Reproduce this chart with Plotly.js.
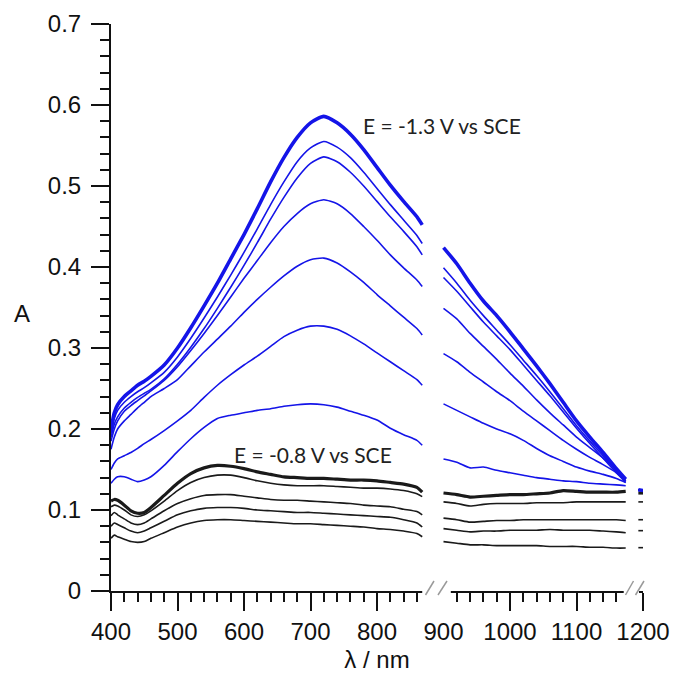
<!DOCTYPE html>
<html><head><meta charset="utf-8">
<script src="https://cdn.plot.ly/plotly-3.0.1.min.js"></script>
<style>html,body{margin:0;padding:0;background:#fff}#chart{width:675px;height:673px}</style>
</head><body><div id="chart"></div>
<script>
// Wavelength grids (nm) for the three detector segments
const wlVis  = [400,405,410,420,430,440,450,460,480,500,520,540,560,580,600,620,640,660,680,700,720,740,760,780,800,820,840,860,868];
const wlNir  = [900,920,940,960,980,1000,1020,1040,1060,1080,1100,1120,1140,1160,1174];
const wlTail = [1193,1200];

// Blue spectra (reduction towards E = -1.3 V vs SCE), absorbance
const blue1Vis = [0.200,0.220,0.230,0.240,0.247,0.254,0.259,0.265,0.279,0.300,0.325,0.352,0.380,0.410,0.440,0.472,0.505,0.535,0.560,0.578,0.586,0.578,0.564,0.545,0.523,0.501,0.481,0.462,0.452];
const blue2Vis = [0.195,0.213,0.223,0.233,0.240,0.246,0.251,0.257,0.270,0.289,0.312,0.337,0.363,0.390,0.418,0.447,0.477,0.505,0.530,0.547,0.555,0.548,0.535,0.517,0.497,0.477,0.458,0.439,0.429];
const blue3Vis = [0.190,0.206,0.215,0.226,0.233,0.239,0.244,0.249,0.262,0.280,0.301,0.324,0.349,0.375,0.402,0.430,0.459,0.486,0.510,0.528,0.536,0.530,0.517,0.500,0.481,0.462,0.444,0.425,0.415];
const blue4Vis = [0.185,0.200,0.210,0.222,0.229,0.235,0.241,0.247,0.260,0.277,0.297,0.318,0.340,0.363,0.386,0.408,0.430,0.450,0.466,0.478,0.483,0.478,0.466,0.450,0.433,0.415,0.399,0.384,0.376];
const blue5Vis = [0.175,0.190,0.200,0.210,0.218,0.226,0.233,0.240,0.250,0.261,0.278,0.295,0.311,0.327,0.344,0.360,0.375,0.389,0.401,0.409,0.411,0.405,0.394,0.381,0.366,0.352,0.338,0.324,0.316];
const blue6Vis = [0.150,0.158,0.163,0.167,0.171,0.176,0.182,0.187,0.198,0.210,0.223,0.239,0.254,0.267,0.279,0.290,0.302,0.314,0.322,0.327,0.327,0.323,0.315,0.305,0.294,0.283,0.272,0.261,0.254];
const blue7Vis = [0.133,0.138,0.141,0.141,0.138,0.135,0.137,0.141,0.155,0.172,0.188,0.202,0.213,0.217,0.220,0.223,0.225,0.228,0.230,0.231,0.230,0.227,0.222,0.217,0.211,0.201,0.193,0.186,0.180];

const blue1Nir = [0.424,0.404,0.380,0.358,0.340,0.320,0.299,0.278,0.256,0.233,0.210,0.190,0.171,0.151,0.138];
const blue2Nir = [0.399,0.380,0.359,0.340,0.322,0.304,0.285,0.266,0.246,0.225,0.204,0.185,0.167,0.148,0.136];
const blue3Nir = [0.387,0.370,0.351,0.332,0.315,0.298,0.279,0.260,0.241,0.221,0.201,0.182,0.164,0.146,0.134];
const blue4Nir = [0.349,0.336,0.318,0.302,0.286,0.269,0.253,0.236,0.220,0.205,0.190,0.177,0.164,0.150,0.138];
const blue5Nir = [0.293,0.283,0.270,0.258,0.246,0.235,0.222,0.210,0.198,0.186,0.175,0.165,0.156,0.146,0.136];
const blue6Nir = [0.231,0.223,0.215,0.207,0.200,0.194,0.186,0.176,0.167,0.160,0.153,0.148,0.144,0.139,0.134];
const blue7Nir = [0.163,0.159,0.152,0.153,0.149,0.146,0.143,0.140,0.138,0.136,0.135,0.133,0.132,0.131,0.130];

const blueTail = [0.125,0.124];

// Black spectra (E = -0.8 V vs SCE and earlier), absorbance
const black1Vis = [0.111,0.113,0.112,0.106,0.099,0.096,0.097,0.103,0.118,0.133,0.145,0.152,0.155,0.154,0.151,0.147,0.144,0.141,0.140,0.139,0.139,0.138,0.137,0.137,0.136,0.134,0.132,0.128,0.122];
const black2Vis = [0.104,0.106,0.105,0.100,0.094,0.092,0.094,0.099,0.111,0.124,0.134,0.140,0.143,0.143,0.140,0.136,0.133,0.131,0.130,0.130,0.130,0.129,0.128,0.127,0.127,0.126,0.124,0.120,0.1165];
const black3Vis = [0.093,0.097,0.094,0.089,0.084,0.082,0.084,0.089,0.099,0.108,0.114,0.118,0.119,0.119,0.117,0.115,0.113,0.112,0.112,0.111,0.110,0.109,0.108,0.106,0.105,0.104,0.101,0.098,0.094];
const black4Vis = [0.080,0.084,0.082,0.078,0.074,0.072,0.074,0.078,0.086,0.094,0.099,0.102,0.103,0.103,0.102,0.100,0.099,0.098,0.097,0.097,0.096,0.095,0.094,0.093,0.092,0.091,0.088,0.084,0.079];
const black5Vis = [0.065,0.069,0.067,0.064,0.061,0.060,0.061,0.065,0.072,0.079,0.084,0.087,0.088,0.088,0.087,0.086,0.085,0.084,0.083,0.083,0.082,0.081,0.080,0.079,0.077,0.076,0.074,0.071,0.067];

const black1Nir = [0.121,0.119,0.116,0.117,0.118,0.119,0.119,0.120,0.121,0.124,0.123,0.122,0.122,0.122,0.123];
const black2Nir = [0.110,0.108,0.105,0.107,0.108,0.108,0.108,0.109,0.109,0.109,0.110,0.110,0.110,0.110,0.110];
const black3Nir = [0.090,0.088,0.085,0.086,0.087,0.087,0.088,0.088,0.088,0.088,0.088,0.088,0.088,0.088,0.087];
const black4Nir = [0.077,0.075,0.073,0.074,0.074,0.075,0.075,0.075,0.076,0.075,0.075,0.075,0.074,0.073,0.072];
const black5Nir = [0.061,0.059,0.057,0.057,0.056,0.056,0.056,0.056,0.055,0.055,0.055,0.054,0.054,0.053,0.053];

const black1Tail = [0.121,0.121];
const black2Tail = [0.110,0.110];
const black3Tail = [0.088,0.088];
const black4Tail = [0.0745,0.0745];
const black5Tail = [0.0535,0.0535];

const xTicks = [400,500,600,700,800,900,1000,1100,1200];
const yTicks = [0,0.1,0.2,0.3,0.4,0.5,0.6,0.7];

const BLUE = '#1414e8';
const BLACK = '#1a1a1a';

function curve(vis, nir, tail, color, width){
  return {
    type:'scatter', mode:'lines',
    x:[...wlVis, null, ...wlNir, null, ...wlTail],
    y:[...vis, null, ...nir, null, ...tail],
    line:{color:color, width:width, shape:'spline', smoothing:0.6},
    connectgaps:false, hoverinfo:'skip', showlegend:false
  };
}

const traces = [
  curve(black5Vis, black5Nir, black5Tail, BLACK, 1.6),
  curve(black4Vis, black4Nir, black4Tail, BLACK, 1.6),
  curve(black3Vis, black3Nir, black3Tail, BLACK, 1.6),
  curve(black2Vis, black2Nir, black2Tail, BLACK, 1.6),
  curve(black1Vis, black1Nir, black1Tail, BLACK, 3.2),
  curve(blue7Vis, blue7Nir, blueTail, BLUE, 1.6),
  curve(blue6Vis, blue6Nir, blueTail, BLUE, 1.6),
  curve(blue5Vis, blue5Nir, blueTail, BLUE, 1.6),
  curve(blue4Vis, blue4Nir, blueTail, BLUE, 1.6),
  curve(blue3Vis, blue3Nir, blueTail, BLUE, 1.6),
  curve(blue2Vis, blue2Nir, blueTail, BLUE, 1.6),
  curve(blue1Vis, blue1Nir, blueTail, BLUE, 3.6)
];

// layout geometry (pixels)
const W = 675, H = 673, ML = 111, MR = 32, MT = 24, MB = 82;
const PW = W - ML - MR, PH = H - MT - MB;
const px = v => (v - ML) / PW;          // pixel -> paper x
const py = v => (H - MB - v) / PH;      // pixel -> paper y

function slash(x0, y0, x1, y1){
  return {type:'line', xref:'paper', yref:'paper', x0:px(x0), y0:py(y0), x1:px(x1), y1:py(y1),
          line:{color:'#9a9a9a', width:1.5}, layer:'above'};
}
const shapes = [
  {type:'rect', xref:'x', yref:'paper', x0:868, x1:911, y0:-0.036, y1:0.006, fillcolor:'#ffffff', line:{width:0}, layer:'above'},
  {type:'rect', xref:'x', yref:'paper', x0:1171, x1:1194, y0:-0.036, y1:0.006, fillcolor:'#ffffff', line:{width:0}, layer:'above'},
  slash(425.5, 595, 434, 581), slash(438, 595, 447, 581),
  slash(625.5, 595, 633.5, 581), slash(635.5, 595, 644, 581)
];

const tickFont = {family:'"Liberation Sans", Arial, sans-serif', size:24, color:'#111'};
const noteFont = {family:'Lato, "Open Sans", sans-serif', size:21, color:'#222'};

const layout = {
  width:W, height:H,
  margin:{l:ML, r:MR, t:MT, b:MB, pad:0},
  paper_bgcolor:'#fff', plot_bgcolor:'#fff',
  showlegend:false,
  xaxis:{
    range:[400,1200], tickmode:'array', tickvals:xTicks, ticktext:xTicks.map(String),
    showgrid:false, zeroline:false, showline:true, linecolor:'#111', linewidth:2,
    ticks:'outside', ticklen:18, tickwidth:2, tickcolor:'#111', ticklabelstandoff:0,
    minor:{dtick:20, ticks:'outside', ticklen:9, tickwidth:2, tickcolor:'#111', showgrid:false},
    tickfont:tickFont,
    title:{text:'λ / nm', font:tickFont, standoff:8}
  },
  yaxis:{
    range:[0,0.7], tickmode:'array', tickvals:yTicks, ticktext:yTicks.map(v => String(v)),
    showgrid:false, zeroline:false, showline:true, linecolor:'#111', linewidth:2,
    ticks:'outside', ticklen:18, tickwidth:2, tickcolor:'#111', ticklabelstandoff:5,
    minor:{dtick:0.02, ticks:'outside', ticklen:9, tickwidth:2, tickcolor:'#111', showgrid:false},
    tickfont:tickFont
  },
  annotations:[
    {text:'A', xref:'paper', yref:'paper', x:px(22), y:py(313), xanchor:'center', yanchor:'middle', showarrow:false, font:tickFont},
    {text:'E = -1.3 V vs SCE', xref:'x', yref:'y', x:898, y:0.575, xanchor:'center', yanchor:'middle', showarrow:false, font:noteFont},
    {text:'E = -0.8 V vs SCE', xref:'x', yref:'y', x:704, y:0.168, xanchor:'center', yanchor:'middle', showarrow:false, font:noteFont}
  ],
  shapes:shapes
};

Plotly.newPlot('chart', traces, layout, {displayModeBar:false, staticPlot:true});
</script>
</body></html>
